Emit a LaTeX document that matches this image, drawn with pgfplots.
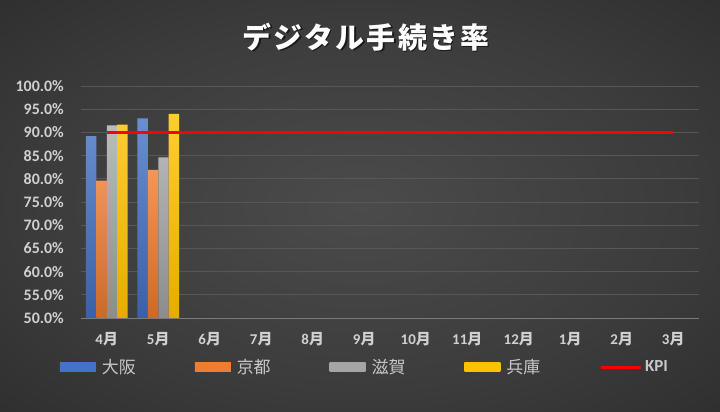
\documentclass[border=0pt]{standalone}
\usepackage{fontspec}
\setmainfont{Carlito}
\newfontfamily\cjk{Noto Sans CJK JP}
\newfontfamily\titlefont[LetterSpace=8]{Noto Sans CJK JP}
\usepackage{pgfplots}
\pgfplotsset{compat=1.18}

\definecolor{cA}{HTML}{4472C4}
\definecolor{cB}{HTML}{ED7D31}
\definecolor{cC}{HTML}{A5A5A5}
\definecolor{cD}{HTML}{FFC000}
\definecolor{bgin}{HTML}{4B4B4B}
\definecolor{bgmid}{HTML}{3C3C3C}
\definecolor{bgout}{HTML}{222222}
\definecolor{cgrid}{HTML}{575757}
\definecolor{caxis}{HTML}{7A7A7A}
\definecolor{ctick}{HTML}{D0D0D0}
\definecolor{cleg}{HTML}{C8C8C8}

\pgfdeclareradialshading{bg}{\pgfpoint{0bp}{0bp}}{%
  color(0bp)=(bgin); color(22bp)=(bgmid); color(50bp)=(bgout)}

% 4月, 5月 only; other months empty
\pgfplotstableread{
x osaka kyoto shiga hyogo
0 89.2 79.6 91.5 91.7
1 93.0 81.9 84.6 94.0
}\rates

\begin{document}
\begin{tikzpicture}
\shade[shading=bg] (0bp,0bp) rectangle (720bp,412bp);
\node[font=\titlefont\bfseries\fontsize{29}{33}\selectfont, text=black, opacity=0.6]
  at (367.5bp,373.5bp) {デジタル手続き率};
\node[font=\titlefont\bfseries\fontsize{29}{33}\selectfont, text=white]
  at (366bp,375bp) {デジタル手続き率};

\begin{axis}[
  at={(81bp,94bp)}, anchor=south west,
  scale only axis, width=618bp, height=232bp,
  xmin=-0.5, xmax=11.5, ymin=50, ymax=100,
  ybar=0pt, bar width=10.4bp,
  xtick={0,...,11},
  xticklabels={4{\cjk 月},5{\cjk 月},6{\cjk 月},7{\cjk 月},8{\cjk 月},9{\cjk 月},
    10{\cjk 月},11{\cjk 月},12{\cjk 月},1{\cjk 月},2{\cjk 月},3{\cjk 月}},
  ytick={50,55,...,100},
  yticklabel={\pgfmathprintnumber[fixed,fixed zerofill,precision=1]{\tick}\%},
  /pgf/number format/assume math mode=true,
  ymajorgrids,
  grid style={draw=cgrid, line width=0.9bp},
  major tick length=0pt,
  axis x line*=bottom, axis y line*=left,
  y axis line style={draw=none},
  x axis line style={draw=caxis, line width=1bp},
  tick label style={font=\bfseries\fontsize{15}{18}\selectfont, text=ctick},
  yticklabel style={inner sep=0pt, xshift=-17bp, font=\bfseries\fontsize{16}{18}\selectfont},
  xticklabel style={inner sep=0pt, yshift=-14bp},
  legend columns=5,
  legend style={draw=none, fill=none, inner sep=0pt,
    at={(-0.0345,-0.211)}, anchor=west,
    font=\fontsize{17}{20}\selectfont, text=cleg,
    nodes={inner sep=2bp},
    /tikz/every even column/.append style={column sep=57bp}},
]
\addplot[draw=none, shade, top color=cA!80!white, bottom color=cA!85!black, bar shift=-15.6bp,
  legend image code/.code={\fill[top color=cA, bottom color=cA] (0bp,-5bp) rectangle (36bp,4bp); \path (40bp,0bp);}]
  table[x=x, y=osaka] {\rates};
\addlegendentry{\cjk 大阪}
\addplot[draw=none, shade, top color=cB!80!white, bottom color=cB!85!black, bar shift=-5.2bp,
  legend image code/.code={\fill[top color=cB, bottom color=cB] (0bp,-5bp) rectangle (36bp,4bp); \path (40bp,0bp);}]
  table[x=x, y=kyoto] {\rates};
\addlegendentry{\cjk 京都}
\addplot[draw=none, shade, top color=cC!75!white, bottom color=cC!85!black, bar shift=5.2bp,
  legend image code/.code={\fill[top color=cC, bottom color=cC] (0bp,-5bp) rectangle (36bp,4bp); \path (40bp,0bp);}]
  table[x=x, y=shiga] {\rates};
\addlegendentry{\cjk 滋賀}
\addplot[draw=none, shade, top color=cD!80!white, bottom color=cD!90!black, bar shift=15.6bp,
  legend image code/.code={\fill[top color=cD, bottom color=cD] (0bp,-5bp) rectangle (36bp,4bp); \path (40bp,0bp);}]
  table[x=x, y=hyogo] {\rates};
\addlegendentry{\cjk 兵庫}
\addplot[sharp plot, draw=red, line width=2.6bp, mark=none,
  legend image code/.code={\draw[red, line width=3bp] (0bp,-0.5bp) -- (40bp,-0.5bp); \path (41bp,0bp);}]
  coordinates {(0,90) (1,90) (2,90) (3,90) (4,90) (5,90) (6,90) (7,90) (8,90) (9,90) (10,90) (11,90)};
\addlegendentry{\textbf{KPI}}
\end{axis}
\pgfresetboundingbox
\path[use as bounding box] (0bp,0bp) rectangle (720bp,412bp);
\end{tikzpicture}
\end{document}
